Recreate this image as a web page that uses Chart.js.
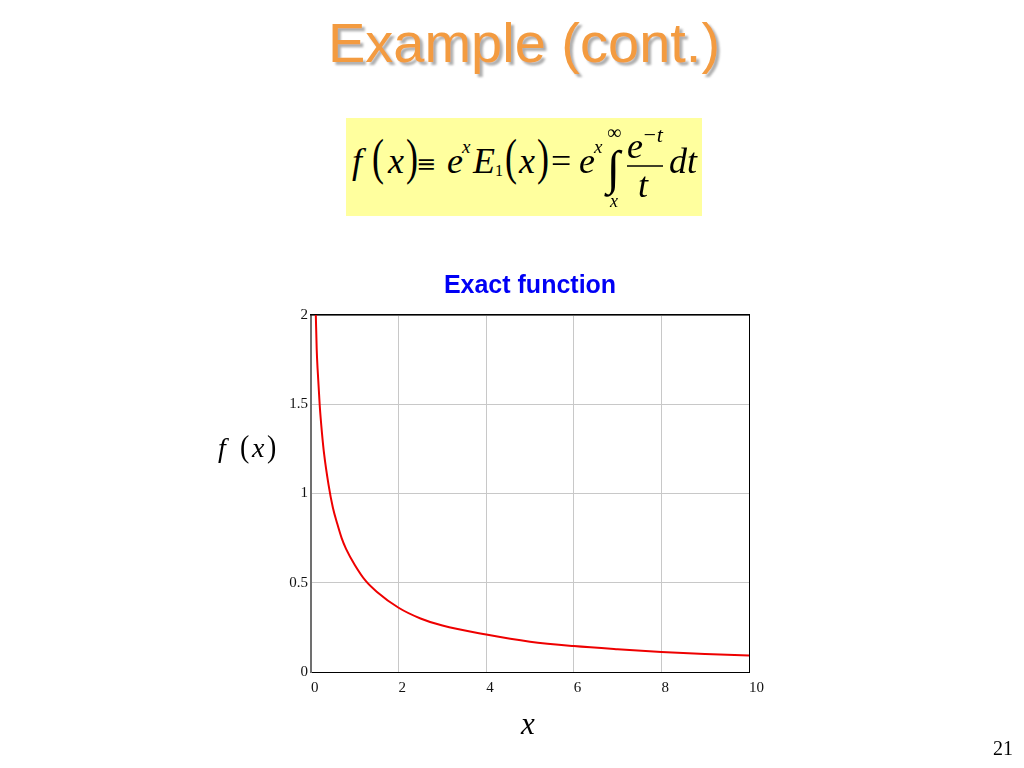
<!DOCTYPE html>
<html>
<head>
<meta charset="utf-8">
<script src="https://cdn.jsdelivr.net/npm/chart.js@4"></script>
<style>
  html, body { margin: 0; padding: 0; background: #ffffff; }
  body { width: 1024px; height: 768px; position: relative; overflow: hidden; }
  #wrap { position: absolute; left: 0; top: 0; width: 1024px; height: 768px; }
  #overlay { position: absolute; left: 0; top: 0; width: 1024px; height: 768px; pointer-events: none; }
</style>
</head>
<body>
<script>
// ---- data ----
const xValues = [0.11, 0.13, 0.15, 0.2, 0.25, 0.3, 0.4, 0.5, 0.6, 0.7, 0.8, 1.0, 1.25, 1.5, 2, 2.5, 3, 4, 5, 6, 7, 8, 9, 10];
const fValues = [2.0, 1.81, 1.70, 1.49, 1.34, 1.22, 1.05, 0.92, 0.83, 0.75, 0.69, 0.60, 0.51, 0.45, 0.36, 0.30, 0.26, 0.21, 0.17, 0.145, 0.127, 0.112, 0.101, 0.092];
const xTickValues = [0, 2, 4, 6, 8, 10];
const yTickValues = [0, 0.5, 1, 1.5, 2];
const chartTitle = "Exact function";
const slideTitle = "Example (cont.)";
const pageNumber = "21";
</script>

<div id="wrap"><canvas id="c" width="1024" height="768"></canvas></div>

<svg id="overlay" xmlns="http://www.w3.org/2000/svg" width="1024" height="768">
  <defs>
    <filter id="shadow" x="-10%" y="-20%" width="130%" height="160%">
      <feDropShadow dx="3" dy="3" stdDeviation="1" flood-color="#8c8c8c" flood-opacity="0.7"/>
    </filter>
  </defs>
  <text id="slideTitle" x="524" y="62" text-anchor="middle" font-family="'Liberation Sans', Arial, sans-serif" font-size="56" fill="#F39B3F" filter="url(#shadow)"></text>

  <!-- formula box -->
  <rect x="346" y="118" width="356" height="98" fill="#FFFF9E"/>
  <g font-family="'Liberation Serif', 'Times New Roman', serif" fill="#000">
    <text x="352" y="173" font-size="36" font-style="italic">f</text>
    <text transform="translate(372,174) scale(1,1.4)" font-size="36">(</text>
    <text x="388" y="173" font-size="36" font-style="italic">x</text>
    <text transform="translate(406,174) scale(1,1.4)" font-size="36">)</text>
    <text x="416" y="172" font-family="'DejaVu Serif', serif" font-size="24">≡</text>
    <text x="447" y="173" font-size="36" font-style="italic">e</text>
    <text x="462" y="153" font-size="19" font-style="italic">x</text>
    <text x="473" y="173" font-size="36" font-style="italic">E</text>
    <text x="495" y="176" font-size="16">1</text>
    <text transform="translate(505,174) scale(1,1.4)" font-size="36">(</text>
    <text x="519" y="173" font-size="36" font-style="italic">x</text>
    <text transform="translate(537,174) scale(1,1.4)" font-size="36">)</text>
    <text x="551" y="173" font-size="36">=</text>
    <text x="579" y="173" font-size="36" font-style="italic">e</text>
    <text x="594" y="153" font-size="19" font-style="italic">x</text>
    <text x="607" y="184" font-size="48">∫</text>
    <text x="607" y="139" font-size="20">∞</text>
    <text x="610" y="207" font-size="18" font-style="italic">x</text>
    <text x="627" y="158" font-size="36" font-style="italic">e</text>
    <text x="642" y="142" font-size="22" font-style="italic">−t</text>
    <line x1="627" y1="166" x2="663" y2="166" stroke="#000" stroke-width="1.4"/>
    <text x="638" y="197" font-size="36" font-style="italic">t</text>
    <text x="669" y="173" font-size="36" font-style="italic">dt</text>
  </g>

  <text id="chartTitle" x="530" y="293" text-anchor="middle" font-family="'Liberation Sans', Arial, sans-serif" font-weight="bold" font-size="25" fill="#0000F5"></text>

  <g font-family="'Liberation Serif', 'Times New Roman', serif" fill="#000">
    <!-- y axis label f(x) -->
    <text x="218" y="457" font-size="28" font-style="italic">f</text>
    <text transform="translate(240,457) scale(1,1.15)" font-size="28">(</text>
    <text x="252" y="457" font-size="28" font-style="italic">x</text>
    <text transform="translate(267,457) scale(1,1.15)" font-size="28">)</text>
    <!-- x axis label -->
    <text x="521" y="734" font-size="31" font-style="italic">x</text>
    <text id="pageNum" x="993" y="755" font-size="20"></text>
  </g>
</svg>

<script>
document.getElementById('slideTitle').textContent = slideTitle;
document.getElementById('chartTitle').textContent = chartTitle;
document.getElementById('pageNum').textContent = pageNumber;

const points = xValues.map((x, i) => ({ x: x, y: fValues[i] }));
const tickFont = { family: "'Liberation Serif', 'Times New Roman', serif", size: 15 };

new Chart(document.getElementById('c'), {
  type: 'line',
  data: {
    datasets: [{
      data: points,
      borderColor: '#EE0000',
      borderWidth: 2,
      pointRadius: 0,
      fill: false,
      cubicInterpolationMode: 'monotone'
    }]
  },
  options: {
    responsive: false,
    animation: false,
    devicePixelRatio: 1,
    layout: { padding: { left: 251, top: 315, right: 275, bottom: 66 } },
    plugins: { legend: { display: false }, title: { display: false }, tooltip: { enabled: false } },
    scales: {
      x: {
        type: 'linear', position: 'bottom', min: 0, max: 10,
        afterBuildTicks: s => { s.ticks = xTickValues.map(v => ({ value: v })); },
        afterFit: s => { s.height = 30; },
        grid: { color: '#C8C8C8', lineWidth: 1, drawTicks: false },
        border: { color: '#000000', width: 1 },
        ticks: { align: 'start', padding: 7, color: '#111', font: tickFont, maxRotation: 0,
                 callback: v => String(v) }
      },
      y: {
        type: 'linear', position: 'left', min: 0, max: 2,
        afterBuildTicks: s => { s.ticks = yTickValues.map(v => ({ value: v })); },
        afterFit: s => { s.width = 60; },
        grid: { color: '#C8C8C8', lineWidth: 1, drawTicks: false },
        border: { color: '#707070', width: 2 },
        ticks: { padding: 3, color: '#111', font: tickFont, callback: v => String(v) }
      },
      xTop: {
        type: 'linear', position: 'top', min: 0, max: 10,
        afterFit: s => { s.height = 0; },
        grid: { display: false },
        border: { color: '#000000', width: 1.5 },
        ticks: { display: false }
      },
      yRight: {
        type: 'linear', position: 'right', min: 0, max: 2,
        afterFit: s => { s.width = 0; },
        grid: { display: false },
        border: { color: '#000000', width: 1 },
        ticks: { display: false }
      }
    }
  }
});
</script>
</body>
</html>
